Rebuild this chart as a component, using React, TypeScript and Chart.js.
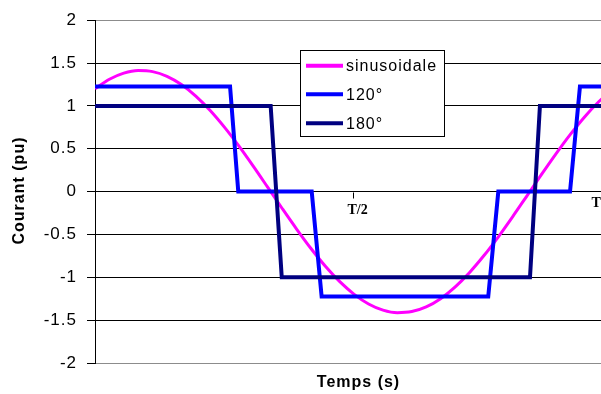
import React, { useEffect, useRef } from "react";
import { Chart, registerables } from "chart.js";

Chart.register(...registerables);

// ---- data ----
const sineT = [0, 10, 20, 30, 40, 50, 60, 70, 80, 90, 100, 110, 120, 130, 140, 150, 160, 170, 180, 190, 200, 210, 220, 230, 240, 250, 260, 270, 280, 290, 300, 310, 320, 330, 340, 350, 360, 366];
const sineValues = [1.199, 1.311, 1.383, 1.413, 1.4, 1.345, 1.249, 1.114, 0.946, 0.749, 0.53, 0.294, 0.049, -0.197, -0.437, -0.664, -0.871, -1.051, -1.199, -1.311, -1.383, -1.413, -1.4, -1.345, -1.249, -1.114, -0.946, -0.749, -0.53, -0.294, -0.049, 0.197, 0.437, 0.664, 0.871, 1.051, 1.199, 1.271];
const wave120T = [0, 93.8, 99.5, 150.5, 157.4, 273.1, 280.1, 329.9, 336.8, 366];
const wave120Values = [1.225, 1.225, 0, 0, -1.225, -1.225, 0, 0, 1.225, 1.225];
const wave180T = [0, 122, 129.7, 302.1, 309, 366];
const wave180Values = [1, 1, -1, -1, 1, 1];
const seriesLabels = ["sinusoidale", "120°", "180°"];
const seriesColors = ["#FF00FF", "#0000FF", "#000080"];
const markValues = [180, 360];
const markLabels = ["T/2", "T"];
const xTitle = "Temps (s)";
const yTitle = "Courant (pu)";

const SANS = "'Liberation Sans', Arial, sans-serif";
const SERIF = "'Liberation Serif', 'Times New Roman', serif";

const toPoints = (xs: number[], ys: number[]) => xs.map((x, i) => ({ x, y: ys[i] }));

const overlayPlugin = {
  id: "overlay",
  beforeLayout(chart: any) {
    chart.ctx.letterSpacing = "1px";
  },
  beforeDraw(chart: any) {
    chart.ctx.letterSpacing = "1px";
  },
  afterDraw(chart: any) {
    const ctx = chart.ctx;
    const xs = chart.scales.x;
    const ys = chart.scales.y;
    const y0 = Math.round(ys.getPixelForValue(0)) + 0.5;

    // x marks (ticks + labels)
    ctx.save();
    ctx.letterSpacing = "0px";
    ctx.strokeStyle = "#000";
    ctx.lineWidth = 1;
    ctx.fillStyle = "#000";
    ctx.font = `bold 14px ${SERIF}`;
    ctx.textBaseline = "alphabetic";
    ctx.textAlign = "left";
    markValues.forEach((v, i) => {
      const px = Math.round(xs.getPixelForValue(v)) - 0.5;
      ctx.beginPath();
      ctx.moveTo(px, y0);
      ctx.lineTo(px, y0 + 6);
      ctx.stroke();
      if (i === 0) ctx.fillText(markLabels[i], px - 6, 214);
      else ctx.fillText(markLabels[i], px - 21, 207);
    });
    ctx.restore();

    // axis titles
    ctx.save();
    ctx.letterSpacing = "1px";
    ctx.fillStyle = "#000";
    ctx.font = `bold 16px ${SANS}`;
    ctx.textAlign = "center";
    ctx.textBaseline = "alphabetic";
    ctx.fillText(xTitle, (chart.chartArea.left + chart.chartArea.right) / 2, 387);
    ctx.translate(24, 190.5);
    ctx.rotate(-Math.PI / 2);
    ctx.fillText(yTitle, 0, 0);
    ctx.restore();

    // legend box
    ctx.save();
    ctx.letterSpacing = "1px";
    const bx = 300.5, by = 50.5, bw = 144, bh = 86;
    ctx.fillStyle = "#fff";
    ctx.fillRect(bx, by, bw, bh);
    ctx.strokeStyle = "#000";
    ctx.lineWidth = 1;
    ctx.strokeRect(bx, by, bw, bh);
    const rows = [65.7, 94.3, 123.3];
    ctx.font = `16px ${SANS}`;
    ctx.textAlign = "left";
    ctx.textBaseline = "middle";
    seriesLabels.forEach((lab, i) => {
      ctx.strokeStyle = seriesColors[i];
      ctx.lineWidth = 4;
      ctx.beginPath();
      ctx.moveTo(306, rows[i]);
      ctx.lineTo(343, rows[i]);
      ctx.stroke();
      ctx.fillStyle = "#000";
      ctx.fillText(lab, 346, rows[i] + 1);
    });
    ctx.restore();
  },
};

export default function App() {
  const ref = useRef<HTMLCanvasElement | null>(null);

  useEffect(() => {
    if (!ref.current) return;
    const chart = new Chart(ref.current, {
      type: "line",
      data: {
        datasets: [
          {
            label: seriesLabels[0],
            data: toPoints(sineT, sineValues),
            borderColor: seriesColors[0],
            borderWidth: 3,
            pointRadius: 0,
            cubicInterpolationMode: "monotone",
            order: 3,
          },
          {
            label: seriesLabels[1],
            data: toPoints(wave120T, wave120Values),
            borderColor: seriesColors[1],
            borderWidth: 4,
            pointRadius: 0,
            tension: 0,
            order: 2,
          },
          {
            label: seriesLabels[2],
            data: toPoints(wave180T, wave180Values),
            borderColor: seriesColors[2],
            borderWidth: 4,
            pointRadius: 0,
            tension: 0,
            order: 1,
          },
        ],
      },
      options: {
        animation: false,
        responsive: false,
        events: [],
        layout: { padding: { top: 19, bottom: 31, left: 0, right: 0 } },
        plugins: { legend: { display: false }, tooltip: { enabled: false }, title: { display: false } },
        scales: {
          x: { type: "linear", min: 0, max: 366, display: false },
          y: {
            min: -2,
            max: 2,
            afterFit: (s: any) => {
              s.width = 95;
            },
            ticks: {
              stepSize: 0.5,
              color: "#000",
              font: { family: SANS, size: 17 },
              padding: 10,
              callback: (v: any) => String(v),
            },
            grid: {
              color: (c: any) => (c.tick && Math.abs(c.tick.value) === 2 ? "#8c8c8c" : "#000"),
              tickColor: "#000",
              tickLength: 8,
              lineWidth: 1,
            },
            border: { display: true, color: "#000", width: 1 },
          },
        },
      },
      plugins: [overlayPlugin],
    } as any);
    return () => chart.destroy();
  }, []);

  return (
    <div style={{ position: "fixed", left: 0, top: 0, width: 601, height: 394, overflow: "hidden", background: "#fff" }}>
      <canvas ref={ref} width={622} height={394} style={{ display: "block" }} />
    </div>
  );
}
